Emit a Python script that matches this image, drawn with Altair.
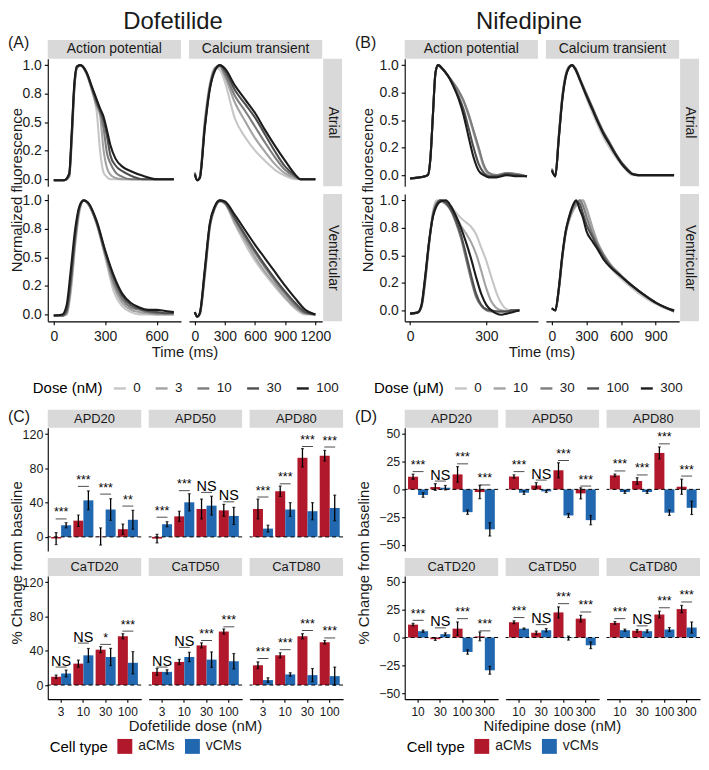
import altair as alt
import pandas as pd

FONT = "Liberation Sans"
INK = "#1a1a1a"
STRIP_FILL = "#d9d9d9"
GRAYS = ["#c6c6c6", "#a3a3a3", "#7d7d7d", "#4f4f4f", "#1c1c1c"]
RED = "#b2182b"
BLUE = "#2268b0"
CELLS = ["aCMs", "vCMs"]

DOF_DOSES = ["0", "3", "10", "30", "100"]
NIF_DOSES = ["0", "10", "30", "100", "300"]

# ---------------- normalized traces (time in ms, one list per dose) ----------------
DOF_AP_ATR_T = [0, 60, 90, 105, 120, 135, 155, 190, 225, 250, 270, 290, 310, 330, 360, 400, 450, 520, 600, 700]
DOF_AP_ATR = [
    [-0.01, -0.01, 0.02, 0.33, 0.78, 0.97, 1.0, 0.93, 0.76, 0.6, 0.25, 0.06, 0.02, 0.0, 0.0, 0.0, 0.0, 0.0, 0.0, 0.0],
    [-0.01, -0.01, 0.02, 0.35, 0.8, 0.98, 1.0, 0.93, 0.77, 0.64, 0.56, 0.26, 0.1, 0.04, 0.01, 0.0, 0.0, 0.0, 0.0, 0.0],
    [-0.01, -0.01, 0.03, 0.37, 0.8, 0.98, 1.0, 0.93, 0.78, 0.66, 0.59, 0.45, 0.23, 0.14, 0.06, 0.02, 0.0, 0.0, 0.0, 0.0],
    [-0.01, -0.01, 0.04, 0.4, 0.82, 0.98, 1.0, 0.94, 0.79, 0.68, 0.6, 0.52, 0.38, 0.21, 0.12, 0.07, 0.03, 0.0, 0.0, 0.0],
    [-0.01, -0.01, 0.05, 0.42, 0.84, 0.99, 1.0, 0.94, 0.8, 0.7, 0.62, 0.55, 0.43, 0.3, 0.18, 0.11, 0.07, 0.03, 0.0, 0.0],
]
DOF_CA_ATR_T = [0, 25, 50, 100, 150, 200, 250, 300, 400, 500, 600, 700, 800, 900, 1000, 1050, 1100, 1200]
DOF_CA_ATR = [
    [0.06, -0.01, 0.02, 0.52, 0.84, 0.98, 0.96, 0.85, 0.53, 0.37, 0.25, 0.16, 0.08, 0.03, 0.0, 0.0, 0.0, 0.0],
    [0.06, -0.01, 0.02, 0.5, 0.82, 0.97, 0.99, 0.9, 0.67, 0.51, 0.36, 0.24, 0.13, 0.05, 0.01, 0.0, 0.0, 0.0],
    [0.05, -0.01, 0.02, 0.48, 0.81, 0.96, 0.99, 0.92, 0.73, 0.6, 0.46, 0.32, 0.19, 0.08, 0.02, 0.0, 0.0, 0.0],
    [0.05, -0.01, 0.01, 0.46, 0.8, 0.96, 1.0, 0.95, 0.78, 0.66, 0.54, 0.39, 0.24, 0.11, 0.03, 0.0, 0.0, 0.0],
    [0.04, -0.01, 0.01, 0.45, 0.79, 0.95, 1.0, 0.97, 0.82, 0.7, 0.58, 0.43, 0.29, 0.16, 0.04, 0.0, 0.0, 0.0],
]
DOF_AP_VEN_T = [0, 50, 75, 100, 125, 150, 175, 200, 250, 300, 350, 400, 450, 500, 550, 600, 650, 700]
DOF_AP_VEN = [
    [-0.01, -0.01, 0.0, 0.2, 0.6, 0.9, 1.0, 0.97, 0.79, 0.5, 0.2, 0.07, 0.02, 0.0, 0.0, 0.0, 0.0, 0.0],
    [-0.01, -0.01, 0.0, 0.24, 0.64, 0.92, 1.0, 0.97, 0.8, 0.52, 0.25, 0.1, 0.04, 0.02, 0.01, 0.0, 0.0, 0.0],
    [-0.01, -0.01, 0.02, 0.28, 0.66, 0.93, 1.0, 0.97, 0.8, 0.53, 0.28, 0.13, 0.06, 0.04, 0.02, 0.01, 0.01, 0.01],
    [-0.01, -0.01, 0.04, 0.32, 0.7, 0.94, 1.0, 0.98, 0.81, 0.55, 0.32, 0.16, 0.08, 0.05, 0.03, 0.02, 0.01, 0.01],
    [-0.01, 0.0, 0.08, 0.4, 0.75, 0.95, 1.0, 0.98, 0.82, 0.56, 0.34, 0.18, 0.1, 0.06, 0.04, 0.04, 0.03, 0.02],
]
DOF_CA_VEN_T = [0, 25, 50, 100, 150, 200, 250, 300, 400, 500, 600, 700, 800, 900, 1000, 1100, 1200]
DOF_CA_VEN = [
    [0.02, -0.02, 0.0, 0.33, 0.76, 0.93, 0.99, 0.97, 0.79, 0.62, 0.47, 0.35, 0.24, 0.14, 0.05, 0.0, 0.0],
    [0.02, -0.02, 0.0, 0.35, 0.77, 0.93, 0.99, 0.97, 0.8, 0.65, 0.5, 0.37, 0.26, 0.15, 0.06, 0.01, 0.0],
    [0.02, -0.02, 0.01, 0.36, 0.78, 0.94, 1.0, 0.98, 0.83, 0.68, 0.54, 0.41, 0.29, 0.18, 0.08, 0.01, 0.0],
    [0.02, -0.02, 0.01, 0.38, 0.79, 0.94, 1.0, 0.98, 0.84, 0.7, 0.56, 0.43, 0.31, 0.2, 0.1, 0.02, 0.0],
    [0.02, -0.02, 0.01, 0.4, 0.8, 0.95, 1.0, 0.99, 0.87, 0.74, 0.61, 0.49, 0.37, 0.25, 0.14, 0.04, 0.0],
]
NIF_AP_ATR_T = [0, 40, 70, 80, 90, 100, 110, 130, 150, 170, 190, 210, 230, 250, 270, 290, 310, 340, 380, 420, 460]
NIF_AP_ATR = [
    [-0.03, -0.02, 0.0, 0.15, 0.55, 0.93, 1.0, 0.96, 0.9, 0.84, 0.76, 0.67, 0.54, 0.38, 0.22, 0.07, 0.0, -0.01, 0.01, 0.0, -0.01],
    [-0.03, -0.02, 0.0, 0.15, 0.55, 0.93, 1.0, 0.96, 0.9, 0.84, 0.77, 0.68, 0.56, 0.4, 0.24, 0.09, 0.01, -0.01, 0.02, 0.0, -0.01],
    [-0.03, -0.02, 0.0, 0.15, 0.55, 0.93, 1.0, 0.96, 0.9, 0.84, 0.77, 0.68, 0.55, 0.4, 0.25, 0.09, 0.02, 0.0, 0.02, 0.01, -0.01],
    [-0.03, -0.02, 0.0, 0.15, 0.55, 0.93, 1.0, 0.96, 0.9, 0.82, 0.72, 0.6, 0.43, 0.25, 0.1, 0.02, -0.01, -0.01, 0.01, 0.0, -0.01],
    [-0.03, -0.02, 0.0, 0.15, 0.55, 0.93, 1.0, 0.96, 0.9, 0.81, 0.7, 0.55, 0.35, 0.16, 0.04, 0.0, -0.02, -0.02, 0.0, -0.01, -0.01],
]
NIF_CA_ATR_T = [0, 30, 60, 90, 120, 150, 175, 200, 250, 300, 350, 400, 450, 500, 550, 600, 650, 700, 750, 850, 950, 1060]
NIF_CA_ATR = [
    [0.06, -0.02, 0.37, 0.72, 0.92, 0.99, 1.0, 0.96, 0.84, 0.7, 0.57, 0.45, 0.34, 0.25, 0.17, 0.1, 0.04, 0.0, 0.0, 0.0, 0.0, 0.0],
    [0.06, -0.01, 0.36, 0.71, 0.91, 0.99, 1.0, 0.97, 0.85, 0.72, 0.6, 0.48, 0.37, 0.28, 0.19, 0.11, 0.05, 0.01, 0.0, 0.0, 0.0, 0.0],
    [0.05, -0.01, 0.35, 0.7, 0.9, 0.98, 1.0, 0.98, 0.86, 0.74, 0.62, 0.5, 0.39, 0.3, 0.2, 0.12, 0.06, 0.01, 0.0, 0.0, 0.0, 0.0],
    [0.05, -0.01, 0.34, 0.69, 0.9, 0.98, 1.0, 0.97, 0.85, 0.73, 0.61, 0.49, 0.38, 0.29, 0.2, 0.12, 0.06, 0.01, 0.0, 0.0, 0.0, 0.0],
    [0.04, -0.01, 0.33, 0.68, 0.89, 0.98, 1.0, 0.97, 0.85, 0.72, 0.6, 0.48, 0.37, 0.28, 0.19, 0.11, 0.05, 0.01, 0.0, 0.0, 0.0, 0.0],
]
NIF_AP_VEN_T = [0, 30, 45, 60, 75, 90, 105, 120, 140, 160, 180, 200, 220, 240, 260, 280, 300, 320, 340, 360, 380, 400, 430]
NIF_AP_VEN = [
    [-0.03, -0.02, 0.03, 0.27, 0.62, 0.9, 1.0, 0.99, 0.97, 0.94, 0.89, 0.84, 0.8, 0.76, 0.69, 0.57, 0.45, 0.3, 0.16, 0.06, 0.01, 0.0, 0.0],
    [-0.03, -0.02, 0.03, 0.27, 0.6, 0.87, 0.98, 1.0, 0.98, 0.93, 0.86, 0.77, 0.7, 0.62, 0.51, 0.36, 0.2, 0.08, 0.02, 0.0, -0.01, 0.0, 0.0],
    [-0.03, -0.02, 0.04, 0.3, 0.62, 0.87, 0.97, 1.0, 0.97, 0.91, 0.8, 0.66, 0.47, 0.28, 0.12, 0.04, 0.0, -0.01, -0.01, -0.01, -0.01, 0.0, 0.0],
    [-0.03, -0.02, 0.04, 0.3, 0.62, 0.86, 0.97, 1.0, 0.98, 0.92, 0.82, 0.69, 0.51, 0.32, 0.15, 0.05, 0.01, 0.0, -0.01, -0.01, -0.01, 0.0, 0.0],
    [-0.03, -0.02, 0.05, 0.32, 0.63, 0.85, 0.95, 0.99, 1.0, 0.95, 0.86, 0.75, 0.62, 0.47, 0.3, 0.15, 0.05, 0.0, -0.03, -0.04, -0.03, -0.02, 0.0],
]
NIF_CA_VEN_T = [0, 30, 60, 90, 120, 150, 180, 210, 240, 270, 300, 350, 400, 450, 500, 600, 700, 800, 900, 1000, 1060]
NIF_CA_VEN = [
    [0.02, 0.0, 0.18, 0.47, 0.7, 0.82, 0.9, 0.96, 1.0, 0.99, 0.9, 0.73, 0.58, 0.48, 0.4, 0.29, 0.2, 0.12, 0.06, 0.01, 0.0],
    [0.02, 0.0, 0.18, 0.47, 0.7, 0.82, 0.9, 0.95, 0.99, 1.0, 0.93, 0.76, 0.61, 0.51, 0.43, 0.32, 0.22, 0.14, 0.07, 0.02, 0.0],
    [0.02, 0.0, 0.19, 0.48, 0.71, 0.84, 0.93, 0.97, 1.0, 0.95, 0.85, 0.7, 0.59, 0.5, 0.42, 0.31, 0.22, 0.14, 0.07, 0.02, -0.01],
    [0.02, 0.0, 0.2, 0.49, 0.72, 0.85, 0.94, 0.99, 0.97, 0.88, 0.78, 0.67, 0.57, 0.48, 0.41, 0.31, 0.22, 0.14, 0.07, 0.02, -0.01],
    [0.02, 0.0, 0.2, 0.5, 0.72, 0.85, 0.95, 1.0, 0.92, 0.84, 0.72, 0.63, 0.55, 0.46, 0.4, 0.31, 0.22, 0.14, 0.07, 0.02, 0.0],
]

# ---------------- % change from baseline (rows: APD20, APD50, APD80, CaTD20, CaTD50, CaTD80) ----------------
METRICS = ["APD20", "APD50", "APD80", "CaTD20", "CaTD50", "CaTD80"]
DOF_BAR_DOSES = ["3", "10", "30", "100"]
NIF_BAR_DOSES = ["10", "30", "100", "300"]

DOF_A_MEAN = [[-2, 19, 0.5, 9], [-2, 24, 32.6, 31], [32.6, 53.2, 92.4, 94.8], [9.7, 25, 41.3, 57], [15.4, 27, 46.3, 62.5], [23, 34.7, 57, 50]]
DOF_A_ERR = [[7, 6.6, 10, 6], [5, 6, 11.6, 7], [11.6, 6, 10.7, 6.2], [2, 4, 3.5, 3], [4, 3, 3, 3], [4, 3, 3, 2]]
DOF_V_MEAN = [[13.6, 42.7, 32, 20], [14.8, 40.4, 36.5, 24.5], [9.7, 32, 30, 33.8], [13.5, 34.7, 32.8, 26], [15.4, 32.8, 29.7, 27.8], [5.8, 12.4, 11.6, 10.4]]
DOF_V_ERR = [[3, 11, 12.6, 11], [3, 10, 11, 10], [4, 8, 10, 15], [4, 8, 10, 13], [2.5, 5.5, 9, 9], [2.7, 2, 7.7, 10.6]]
DOF_SIG = [["***", "***", "***", "**"], ["***", "***", "NS", "NS"], ["***", "***", "***", "***"],
           ["NS", "NS", "*", "***"], ["NS", "NS", "***", "***"], ["***", "***", "***", "***"]]
DOF_SIG_Y = [[21, 59, 50, 36], [23, 54, 52, 41], [46.6, 62, 105.6, 105], [21, 49, 47.5, 63], [21, 44, 52, 68], [31, 41.3, 63.7, 55]]

NIF_A_MEAN = [[11.4, 2.1, 13.5, -2.4], [11.7, 3.6, 17.2, -3.6], [12.6, 7.5, 32.8, 2.4], [11.6, -1.5, 8, 1], [13.8, 4.2, 22.6, 17], [13.2, 6, 20.7, 25.6]]
NIF_A_ERR = [[2.3, 3, 7, 6], [1.5, 2.4, 6.8, 5], [1.2, 3, 5.4, 6.8], [1.2, 1.2, 6, 4], [1.2, 1.5, 5, 3], [1.2, 1.2, 3, 3.3]]
NIF_V_MEAN = [[-5.1, 1.5, -20.5, -36], [-3, -1.8, -23.5, -27.7], [-2.4, -2.4, -21, -16.6], [5.7, 3, -13, -29.5], [8, 6.6, -0.5, -7], [6.6, 5.7, 7.2, 9]]
NIF_V_ERR = [[2, 2, 2, 6], [1.5, 1, 1.8, 4.2], [1.2, 1.2, 2.4, 6], [1, 1.2, 2, 3.5], [0.6, 1.5, 1.8, 3], [1, 1.2, 1.8, 5]]
NIF_SIG = [["***", "NS", "***", "***"], ["***", "NS", "***", "***"], ["***", "***", "***", "***"],
           ["***", "NS", "***", "***"], ["***", "NS", "***", "***"], ["***", "NS", "***", "***"]]
NIF_SIG_Y = [[16, 7.5, 23, 4], [16, 8.4, 26, 3], [16.6, 13, 41, 12], [15.5, 8.7, 17, 6], [18, 11.6, 30.5, 23], [17, 10.5, 26.8, 32]]

TW, TH = 134, 128
BW, BH = 94, 124
ONE = pd.DataFrame({"k": [0]})


def axis_common(**kw):
    return alt.Axis(grid=False, domainColor="black", tickColor="black", labelColor=INK, labelFont=FONT,
                    title=None, labelFlush=False, labelOverlap=False, domainWidth=1.1, tickWidth=1.1, **kw)


def txt(s, x, y, size, angle=0, align="center", baseline="middle", color=INK):
    kw = dict(text=s, fontSize=size, align=align, baseline=baseline, color=color, font=FONT)
    if angle:
        kw["angle"] = angle
    return alt.Chart(ONE).mark_text(**kw).encode(x=alt.value(x), y=alt.value(y))


def anchor(x1, x2, y1, y2):
    # invisible box that fixes the layout bounds of a block
    return alt.Chart(ONE).mark_rect(opacity=0).encode(
        x=alt.value(x1), x2=alt.value(x2), y=alt.value(y1), y2=alt.value(y2))


def strip_top(label, w, h, size):
    r = alt.Chart(ONE).mark_rect(color=STRIP_FILL).encode(
        x=alt.value(0), x2=alt.value(w), y=alt.value(-h), y2=alt.value(0))
    return [r, txt(label, w / 2, -h / 2, size)]


def strip_right(label, w, h, sw, size):
    r = alt.Chart(ONE).mark_rect(color=STRIP_FILL).encode(
        x=alt.value(w + 1), x2=alt.value(w + 1 + sw), y=alt.value(0), y2=alt.value(h))
    return [r, txt(label, w + 1 + sw / 2, h / 2, size, angle=90)]


def spacer(w, h):
    return alt.Chart(ONE).mark_point(opacity=0).encode(x=alt.value(0), y=alt.value(0)).properties(width=w, height=h)


def trace_panel(T, vals, doses, xdom, xticks, ydom, show_x, show_y, top=None, right=None, legend=None, extras=()):
    rows = []
    for d, vs in zip(doses, vals):
        for t, v in zip(T, vs):
            rows.append({"t": t, "v": v, "dose": d})
    df = pd.DataFrame(rows)
    xax = axis_common(values=xticks, format="d", tickSize=3.5, labelPadding=4.5, labelFontSize=14) if show_x else None
    yax = axis_common(values=[0, 0.25, 0.5, 0.75, 1.0], tickSize=3.5, labelPadding=3, labelFontSize=14,
                      labelExpr="datum.value == 0.25 ? '0.2' : format(datum.value, '.1f')") if show_y else None
    lines = alt.Chart(df).mark_line(interpolate="monotone", strokeWidth=2.1).encode(
        x=alt.X("t:Q", scale=alt.Scale(domain=xdom, nice=False, zero=False), axis=xax),
        y=alt.Y("v:Q", scale=alt.Scale(domain=ydom, nice=False, zero=False), axis=yax),
        stroke=alt.Stroke("dose:N", scale=alt.Scale(domain=doses, range=GRAYS), legend=legend),
    )
    layers = [lines]
    if top:
        layers += strip_top(top, TW, 19, 14)
    if right:
        layers += strip_right(right, TW, TH, 19, 14)
    layers += list(extras)
    return alt.layer(*layers).properties(width=TW, height=TH)


def bar_panel(doses, aM, aE, vM, vE, sig, sy, ydom, yticks, show_x, show_y, strip, legend=None, extras=()):
    rows = []
    for i, d in enumerate(doses):
        for cell, m, e in (("aCMs", aM[i], aE[i]), ("vCMs", vM[i], vE[i])):
            rows.append({"dose": d, "cell": cell, "m": m, "lo": m - e, "hi": m + e})
    df = pd.DataFrame(rows)
    sdf = pd.DataFrame({"dose": doses, "sy": sy, "lab": sig})
    xax = axis_common(tickSize=3, labelPadding=4.5, labelFontSize=12, labelAngle=0) if show_x else None
    yax = axis_common(values=yticks, tickSize=3, labelPadding=2, labelFontSize=12.5) if show_y else None
    xs = alt.Scale(domain=doses, paddingInner=0.1, paddingOuter=0.15)
    ys = alt.Scale(domain=ydom, nice=False, zero=False)

    def X():
        return alt.X("dose:N", scale=xs, axis=xax)

    def XO():
        return alt.XOffset("cell:N", scale=alt.Scale(domain=CELLS, paddingInner=0, paddingOuter=0))

    def Y(f):
        return alt.Y(f, type="quantitative", scale=ys, axis=yax)

    bars = alt.Chart(df).mark_bar().encode(
        x=X(), xOffset=XO(), y=Y("m"), y2=alt.datum(0),
        fill=alt.Fill("cell:N", scale=alt.Scale(domain=CELLS, range=[RED, BLUE]), legend=legend))
    err = alt.Chart(df).mark_rule(color="black", strokeWidth=1.3).encode(x=X(), xOffset=XO(), y=Y("lo"), y2="hi")
    cap_hi = alt.Chart(df).mark_tick(orient="horizontal", size=3, thickness=1.2, color="black").encode(
        x=X(), xOffset=XO(), y=Y("hi"))
    cap_lo = alt.Chart(df).mark_tick(orient="horizontal", size=3, thickness=1.2, color="black").encode(
        x=X(), xOffset=XO(), y=Y("lo"))
    zero = alt.Chart(ONE).mark_rule(color="black", strokeWidth=1, strokeDash=[4, 3]).encode(
        y=alt.YDatum(0, scale=ys, axis=yax))
    sline = alt.Chart(sdf).mark_tick(orient="horizontal", size=11, thickness=1, color="black").encode(
        x=X(), y=Y("sy"))
    stars = alt.Chart(sdf).transform_filter("datum.lab != 'NS'").mark_text(
        baseline="alphabetic", dy=-2.5, fontSize=12.5, color="black", font=FONT).encode(
        x=X(), y=Y("sy"), text="lab:N")
    ns = alt.Chart(sdf).transform_filter("datum.lab == 'NS'").mark_text(
        baseline="alphabetic", dy=-1.5, fontSize=14.5, color="black", font=FONT).encode(
        x=X(), y=Y("sy"), text="lab:N")
    layers = [bars, err, cap_hi, cap_lo, zero, sline, stars, ns] + strip_top(strip, BW, 18, 13) + list(extras)
    return alt.layer(*layers).properties(width=BW, height=BH)


def grid(cells, columns, row_sp, col_sp):
    return alt.concat(*cells, columns=columns, spacing={"row": row_sp, "column": col_sp},
                      bounds="flush", align="each").resolve_scale(
        x="independent", y="independent", stroke="independent", fill="independent")


def dose_legend(title, lx, ly, colpad):
    return alt.Legend(orient="none", legendX=lx, legendY=ly, direction="horizontal", title=title,
                      titleOrient="left", titleFontSize=15, titleFontWeight="normal", titleColor="black",
                      titleFont=FONT, titlePadding=9, titleBaseline="middle", titleAnchor="middle",
                      labelFontSize=13.5, labelColor=INK, labelFont=FONT, symbolType="stroke", symbolSize=144,
                      symbolStrokeWidth=2.4, labelOffset=6, columnPadding=colpad, padding=0)


def cell_legend(lx, ly):
    return alt.Legend(orient="none", legendX=lx, legendY=ly, direction="horizontal", title="Cell type",
                      titleOrient="left", titleFontSize=15, titleFontWeight="normal", titleColor="black",
                      titleFont=FONT, titlePadding=9, titleBaseline="middle", titleAnchor="middle",
                      labelFontSize=14, labelColor=INK, labelFont=FONT, symbolType="square", symbolSize=225,
                      symbolStrokeWidth=0, labelOffset=6, columnPadding=10, padding=0)


YD_DOF = [-0.061, 1.055]
YD_NIF = [-0.1, 1.057]

# ---------------- Panel A ----------------
a11 = trace_panel(DOF_AP_ATR_T, DOF_AP_ATR, DOF_DOSES, [-35, 742], [0, 300, 600], YD_DOF, False, True,
                  top="Action potential",
                  extras=[txt("(A)", -40, -11, 16, align="left", baseline="alphabetic"),
                          txt("Dofetilide", 126, -29.8, 24, baseline="alphabetic")])
a12 = trace_panel(DOF_CA_ATR_T, DOF_CA_ATR, DOF_DOSES, [-58, 1268], [0, 300, 600, 900, 1200], YD_DOF, False, False,
                  top="Calcium transient", right="Atrial")
a21 = trace_panel(DOF_AP_VEN_T, DOF_AP_VEN, DOF_DOSES, [-35, 742], [0, 300, 600], YD_DOF, True, True,
                  legend=dose_legend("Dose (nM)", -15, 188, 9),
                  extras=[txt("Normalized fluorescence", -31, -4, 15, angle=270),
                          txt("Time (ms)", 138, 158.7, 15),
                          anchor(-40, 0, TH, 213)])
a22 = trace_panel(DOF_CA_VEN_T, DOF_CA_VEN, DOF_DOSES, [-58, 1268], [0, 300, 600, 900, 1200], YD_DOF, True, False,
                  right="Ventricular")

# ---------------- Panel B ----------------
b11 = trace_panel(NIF_AP_ATR_T, NIF_AP_ATR, NIF_DOSES, [-21, 503], [0, 300], YD_NIF, False, True,
                  top="Action potential",
                  extras=[txt("(B)", -50, -11, 16, align="left", baseline="alphabetic"),
                          txt("Nifedipine", 125, -29.8, 24, baseline="alphabetic")])
b12 = trace_panel(NIF_CA_ATR_T, NIF_CA_ATR, NIF_DOSES, [-52, 1104], [0, 300, 600, 900], YD_NIF, False, False,
                  top="Calcium transient", right="Atrial")
b21 = trace_panel(NIF_AP_VEN_T, NIF_AP_VEN, NIF_DOSES, [-21, 503], [0, 300], YD_NIF, True, True,
                  legend=dose_legend("Dose (\u03bcM)", -31, 188, 6),
                  extras=[txt("Normalized fluorescence", -37, -4, 15, angle=270),
                          txt("Time (ms)", 138, 158.7, 15)])
b22 = trace_panel(NIF_CA_VEN_T, NIF_CA_VEN, NIF_DOSES, [-52, 1104], [0, 300, 600, 900], YD_NIF, True, False,
                  right="Ventricular")

trace_grid = grid([a11, a12, spacer(67, TH), b11, b12,
                   a21, a22, spacer(67, TH), b21, b22], 5, 8, 8)


# ---------------- Panels C and D ----------------
def bar_panels(doses, AM, AE, VM, VE, SIG, SY, ydom, yticks, label, lab_x, ytitle_x, xtitle, with_anchor):
    panels = []
    for i, met in enumerate(METRICS):
        row, col = divmod(i, 3)
        extras = []
        legend = None
        if i == 0:
            extras.append(txt(label, lab_x, -6, 16, align="left", baseline="alphabetic"))
            if with_anchor:
                extras.append(anchor(-40, 0, -22, 0))
        if i == 3:
            extras.append(txt("% Change from baseline", ytitle_x, -13, 15, angle=270))
            legend = cell_legend(2, 164)
        if i == 4:
            extras.append(txt(xtitle, BW / 2, 151.3, 15))
        panels.append(bar_panel(doses, AM[i], AE[i], VM[i], VE[i], SIG[i], SY[i], ydom, yticks,
                                show_x=(row == 1), show_y=(col == 0), strip=met, legend=legend, extras=extras))
    return panels


cp = bar_panels(DOF_BAR_DOSES, DOF_A_MEAN, DOF_A_ERR, DOF_V_MEAN, DOF_V_ERR, DOF_SIG, DOF_SIG_Y,
                [-16.5, 127.5], [0, 40, 80, 120], "(C)", -40, -31, "Dofetilide dose (nM)", True)
dp = bar_panels(NIF_BAR_DOSES, NIF_A_MEAN, NIF_A_ERR, NIF_V_MEAN, NIF_V_ERR, NIF_SIG, NIF_SIG_Y,
                [-55.5, 55.5], [-50, -25, 0, 25, 50], "(D)", -50, -41, "Nifedipine dose (nM)", False)

bar_grid = grid(cp[:3] + [spacer(47, BH)] + dp[:3] + cp[3:] + [spacer(47, BH)] + dp[3:], 7, 25, 7.5)

chart = alt.vconcat(trace_grid, bar_grid, spacing=0, bounds="full", padding=0).resolve_scale(
    stroke="independent", fill="independent").configure_view(stroke=None).configure_text(font=FONT)

chart.save("out.html", embed_options={"renderer": "svg", "actions": False})
